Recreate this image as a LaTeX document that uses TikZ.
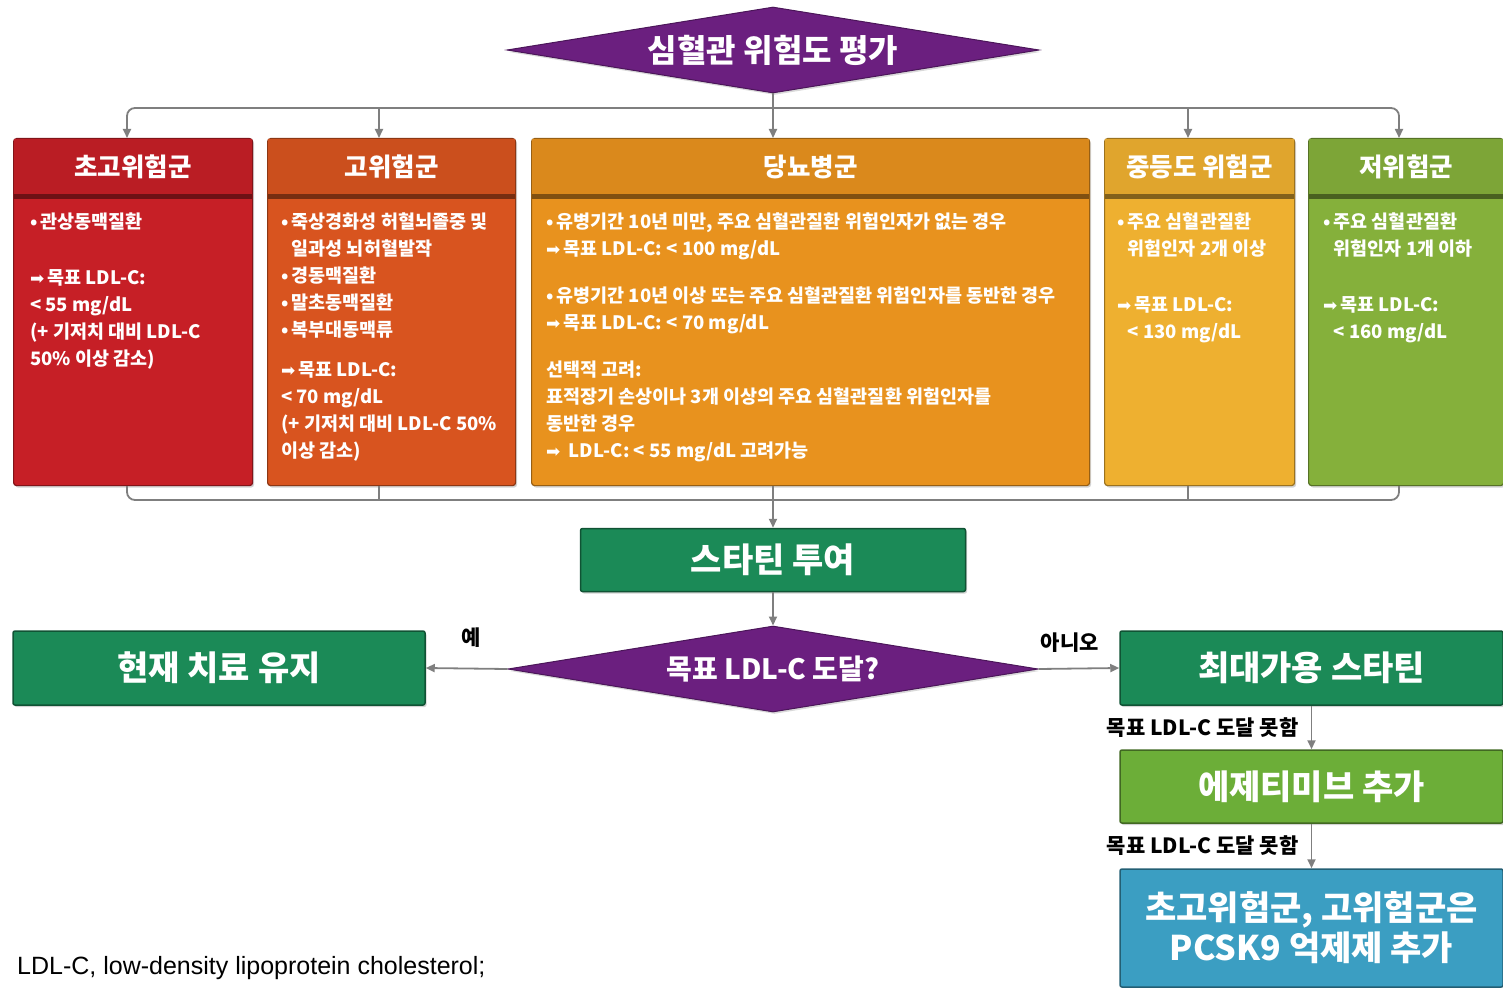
\documentclass[tikz,border=0pt]{standalone}
\usepackage{fontspec}
\setmainfont{Noto Sans CJK KR}
\newfontfamily\symf{DejaVu Sans}
\newfontfamily\ftf{Liberation Sans}
\usetikzlibrary{shapes.geometric,arrows.meta,shadows}

\definecolor{dpurple}{HTML}{6B1F7F}
\definecolor{cred}{HTML}{C61F26}
\definecolor{corr}{HTML}{D8541F}
\definecolor{corg}{HTML}{E8921E}
\definecolor{cyel}{HTML}{EEB030}
\definecolor{cgrn}{HTML}{85B03B}
\definecolor{dgreen}{HTML}{1B8A57}
\definecolor{egreen}{HTML}{6CAE38}
\definecolor{cblue}{HTML}{3B9EC2}
\definecolor{linegray}{HTML}{7F7F7F}

\newcommand{\rarr}{{\symf\mdseries\fontsize{17}{17}\selectfont ➡}}

\tikzset{
  catbox/.style={rectangle, rounded corners=3pt, inner sep=0pt, anchor=north west,
    minimum height=347pt, fill=#1, draw=#1!65!black, line width=1.2pt,
    drop shadow={opacity=0.35, shadow xshift=1.5pt, shadow yshift=-2pt}},
  hdr/.style={text=white, font=\bfseries\fontsize{25.5}{28}\selectfont, inner sep=0pt},
  body/.style={text=white, font=\bfseries\fontsize{18.5}{27}\selectfont, align=left,
    anchor=north west, inner sep=0pt},
  conn/.style={draw=linegray, line width=1.8pt},
  arr/.style={conn, -{Triangle[length=9pt,width=8pt]}},
  actbox/.style={rectangle, rounded corners=2pt, fill=#1, draw=#1!60!black, line width=1.5pt,
    text=white, font=\bfseries\fontsize{34}{40}\selectfont, align=center, inner sep=0pt,
    drop shadow={opacity=0.35, shadow xshift=1.5pt, shadow yshift=-2pt}},
  dia/.style={diamond, aspect=6.2, fill=dpurple, draw=dpurple!70!black, line width=1pt,
    minimum width=532pt, minimum height=86pt, inner sep=0pt, text=white,
    drop shadow={opacity=0.3, shadow xshift=1.5pt, shadow yshift=-2pt}},
  lbl/.style={font=\bfseries\fontsize{21}{23}\selectfont, text=black, inner sep=0pt},
}

\newcommand{\riskbox}[5]{%
  \node[catbox=#4, minimum width=#3pt] (#1) at (#2,138) {};
  \fill[#4!94!black] ([shift={(1.2pt,-1.2pt)}]#1.north west) rectangle ([shift={(-1.2pt,-56pt)}]#1.north east);
  \draw[line width=5pt, #4!55!black] ([shift={(1pt,-58pt)}]#1.north west) -- ([shift={(-1pt,-58pt)}]#1.north east);
  \node[hdr] (#1h) at ([yshift=-29pt]#1.north) {#5};
}

\begin{document}
\begin{tikzpicture}[x=1pt,y=-1pt]
\useasboundingbox (0,0) rectangle (1503,987);

% top diamond
\node[dia, font=\bfseries\fontsize{32}{34}\selectfont] (d1) at (773,50) {심혈관 위험도 평가};

% category boxes
\riskbox{b1}{13}{239}{cred}{초고위험군}
\riskbox{b2}{267}{248}{corr}{고위험군}
\riskbox{b3}{531}{558}{corg}{당뇨병군}
\riskbox{b4}{1104}{190}{cyel}{중등도 위험군}
\riskbox{b5}{1308}{195}{cgrn}{저위험군}

\node[body] (t1) at (30,213) {•\,관상동맥질환\\[29pt]
\rarr\,목표 LDL-C:\\
< 55 mg/dL\\
(+ 기저치 대비 LDL-C\\
50\% 이상 감소)};

\node[body] (t2) at (281,213) {•\,죽상경화성 허혈뇌졸중 및\\
\phantom{•\,}일과성 뇌허혈발작\\
•\,경동맥질환\\
•\,말초동맥질환\\
•\,복부대동맥류\\[13pt]
\rarr\,목표 LDL-C:\\
< 70 mg/dL\\
(+ 기저치 대비 LDL-C 50\%\\
이상 감소)};

\node[body] (t3) at (546,213) {•\,유병기간 10년 미만, 주요 심혈관질환 위험인자가 없는 경우\\
\rarr\,목표 LDL-C: < 100 mg/dL\\[20pt]
•\,유병기간 10년 이상 또는 주요 심혈관질환 위험인자를 동반한 경우\\
\rarr\,목표 LDL-C: < 70 mg/dL\\[20pt]
선택적 고려:\\
표적장기 손상이나 3개 이상의 주요 심혈관질환 위험인자를\\
동반한 경우\\
\rarr\ \ LDL-C: < 55 mg/dL 고려가능};

\node[body] (t4) at (1117,213) {•\,주요 심혈관질환\\
\phantom{•\,}위험인자 2개 이상\\[29pt]
\rarr\,목표 LDL-C:\\
\phantom{•\,}< 130 mg/dL};

\node[body] (t5) at (1323,213) {•\,주요 심혈관질환\\
\phantom{•\,}위험인자 1개 이하\\[29pt]
\rarr\,목표 LDL-C:\\
\phantom{•\,}< 160 mg/dL};

% top bus
\coordinate (bus1) at (127,108);
\coordinate (bus2) at (379,108);
\coordinate (bus4) at (1188,108);
\coordinate (bus5) at (1399,108);
\draw[arr] (d1.south) -- (d1.south |- b3.north);
\draw[conn, rounded corners=8pt, {Triangle[length=9pt,width=8pt]}-{Triangle[length=9pt,width=8pt]}]
  (bus1 |- b1.north) -- (bus1) -- (bus5) -- (bus5 |- b5.north);
\draw[arr] (bus2) -- (bus2 |- b2.north);
\draw[arr] (bus4) -- (bus4 |- b4.north);

% bottom bus
\coordinate (bot1) at (127,500);
\coordinate (bot2) at (379,500);
\coordinate (bot4) at (1188,500);
\coordinate (bot5) at (1399,500);
\draw[conn, rounded corners=8pt] (bot1 |- b1.south) -- (bot1) -- (bot5) -- (bot5 |- b5.south);
\draw[conn] (bot2 |- b2.south) -- (bot2);
\draw[conn] (bot4 |- b4.south) -- (bot4);

% statin
\node[actbox=dgreen, minimum width=385pt, minimum height=63pt] (st) at (773,560) {스타틴 투여};
\draw[arr] (st.north |- b3.south) -- (st.north);

% decision diamond
\node[dia, minimum width=530pt, font=\bfseries\fontsize{28}{30}\selectfont] (d2) at (773,669) {목표 LDL-C 도달?};
\draw[arr] (st.south) -- (d2.north);

\node[actbox=dgreen, minimum width=412pt, minimum height=74pt] (keep) at (219,668) {현재 치료 유지};
\node[actbox=dgreen, minimum width=383pt, minimum height=74pt] (maxs) at (1311.5,668) {최대가용 스타틴};
\node[actbox=egreen, minimum width=383pt, minimum height=73pt] (eze) at (1311.5,786.5) {에제티미브 추가};
\node[actbox=cblue, minimum width=383pt, minimum height=118pt] (pc) at (1311.5,928) {초고위험군, 고위험군은\\PCSK9 억제제 추가};

\draw[arr] (d2.west) -- node[lbl, midway, above=20pt, xshift=5pt] {예} (keep.east);
\draw[arr] (d2.east) -- node[lbl, midway, above=15pt, xshift=-9pt] {아니오} (maxs.west);
\draw[arr] (maxs.south) -- node[lbl, midway, left=12pt] {목표 LDL-C 도달 못함} (eze.north);
\draw[arr] (eze.south) -- node[lbl, midway, left=12pt] {목표 LDL-C 도달 못함} (pc.north);

% footer
\node[font=\ftf\fontsize{25}{27}\selectfont, anchor=west, inner sep=0pt] (foot) at (17,968) {LDL-C, low-density lipoprotein cholesterol;};
\end{tikzpicture}
\end{document}
